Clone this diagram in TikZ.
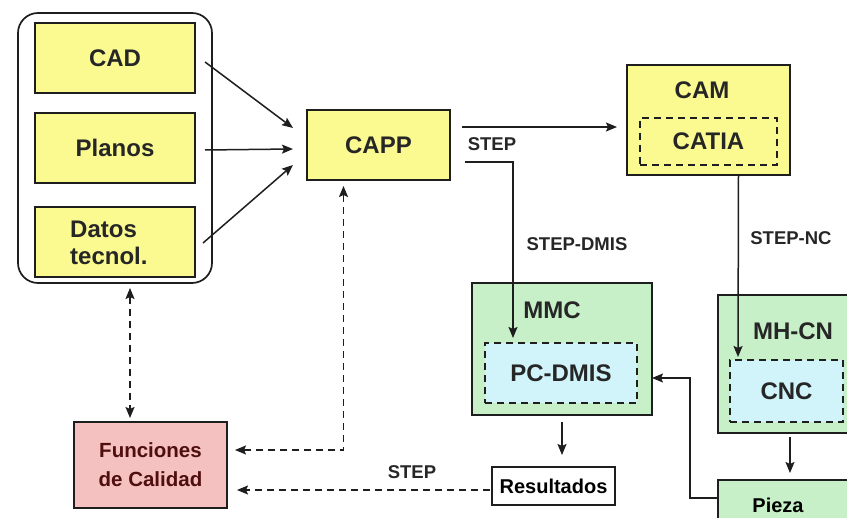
\documentclass[tikz,border=0pt]{standalone}
\usepackage{fontspec}
\setmainfont{Liberation Sans}
\usetikzlibrary{arrows.meta,calc}
\definecolor{yel}{RGB}{250,250,145}
\definecolor{grn}{RGB}{200,240,200}
\definecolor{cyn}{RGB}{208,244,250}
\definecolor{pnk}{RGB}{244,192,192}
\definecolor{edgec}{RGB}{30,30,30}
\definecolor{maroon}{RGB}{80,15,15}
\tikzset{
  box/.style={draw=edgec, line width=1.7pt, inner sep=0pt, outer sep=0pt, anchor=north west},
  dbox/.style={box, dash pattern=on 7pt off 5pt, line width=1.4pt},
  big/.style={font=\bfseries\fontsize{24}{28}\selectfont, text=black!85},
  lbl/.style={font=\bfseries\fontsize{18.5}{22}\selectfont, text=black!85},
  arr/.style={draw=edgec, line width=1.5pt, -{Stealth[length=11pt,width=9pt,inset=2pt]}},
  darr/.style={arr, dash pattern=on 7pt off 5pt},
  ddarr/.style={darr, {Stealth[length=11pt,width=9pt,inset=2pt]}-{Stealth[length=11pt,width=9pt,inset=2pt]}},
}
\begin{document}
\begin{tikzpicture}[x=1pt,y=-1pt]
\useasboundingbox (0,0) rectangle (847,518);
\fill[white] (0,0) rectangle (847,518);
\begin{scope}
\clip (0,0) rectangle (847,518);
% left group
\node[box, fill=white, rounded corners=20pt, minimum width=194pt, minimum height=270pt] (outer) at (18,13) {};
\node[box, fill=yel, minimum width=160pt, minimum height=70pt, big] (cad) at (35,23) {CAD};
\node[box, fill=yel, minimum width=160pt, minimum height=70pt, big] (planos) at (35,113) {Planos};
\node[box, fill=yel, minimum width=160pt, minimum height=70pt] (datos) at (35,207) {};
\node[big, anchor=west, align=left, inner sep=0pt] (datost) at (70,243) {Datos\\[-1pt]tecnol.};
% CAPP
\node[box, fill=yel, minimum width=143pt, minimum height=70pt, big] (capp) at (307,110) {CAPP};
% CAM
\node[box, fill=yel, minimum width=163pt, minimum height=110pt] (cam) at (627,65) {};
\node[big] (camt) at (702,90) {CAM};
\node[dbox, minimum width=137pt, minimum height=47pt, big] (catia) at (640,118) {CATIA};
% MMC
\node[box, fill=grn, minimum width=180pt, minimum height=132pt] (mmc) at (472,283) {};
\node[big] (mmct) at (552,310) {MMC};
\node[dbox, fill=cyn, minimum width=152pt, minimum height=60pt, big] (pcdmis) at (485,343) {PC-DMIS};
% MH-CN
\node[box, fill=grn, minimum width=150pt, minimum height=138pt] (mhcn) at (718,295) {};
\node[big] (mhcnt) at (793,331) {MH-CN};
\node[dbox, fill=cyn, minimum width=113pt, minimum height=62pt, big] (cnc) at (730,360) {CNC};
% Resultados, Pieza
\node[box, fill=white, minimum width=123pt, minimum height=38pt, font=\bfseries\fontsize{20}{22}\selectfont] (res) at (492,467) {Resultados};
\node[box, fill=grn, minimum width=150pt, minimum height=50pt] (pieza) at (718,480) {};
\node[font=\bfseries\fontsize{20}{22}\selectfont] (piezat) at (778,505) {Pieza};
% Funciones
\node[box, fill=pnk, minimum width=153pt, minimum height=86pt, align=center, text=maroon, font=\bfseries\fontsize{20.5}{29}\selectfont] (fun) at (74,422) {Funciones\\de Calidad};
% labels
\node[lbl] (l1) at (492,144) {STEP};
\node[lbl] (l2) at (577,244) {STEP-DMIS};
\node[lbl] (l3) at (791,238) {STEP-NC};
\node[lbl] (l4) at (412,472) {STEP};
% solid connectors
\draw[arr] ($(cad.east)+(10,4)$) -- ($(capp.west)+(-14,-17)$);
\draw[arr] ($(planos.east)+(10,2)$) -- ($(capp.west)+(-14,4)$);
\draw[arr] ($(datos.east)+(8,1)$) -- ($(capp.west)+(-14,20)$);
\coordinate (s1) at ($(capp.east)+(12,-18)$);
\draw[arr] (s1) -- (s1 -| {$(cam.west)+(-10,0)$});
\draw[arr] ($(capp.east)+(15,17)$) -| ($(pcdmis.north west)+(28,-5)$);
\draw[arr] ($(cam.south)+(30,0)$) -- ($(cnc.north west)+(8,-3)$);
\coordinate (m1) at ($(mmc.south)+(0,7)$);
\draw[arr] (m1) -- (m1 |- {$(res.north)+(0,-12)$});
\draw[arr] ($(mhcn.south)+(-3,4)$) -- ($(mhcn.south)+(-3,40)$);
\draw[arr] ($(pieza.west)+(0,-7)$) -- ++(-28,0) |- ($(pcdmis.east)+(15,5)$);
% dashed connectors
\coordinate (o1) at ($(outer.south)+(15,5)$);
\draw[ddarr] (o1) -- (o1 |- {$(fun.north)+(0,-4)$});
\draw[ddarr] ($(capp.south)+(-35,6)$) |- ($(fun.east)+(8,-15)$);
\draw[darr] ($(res.west)+(-2,4)$) -- ($(fun.east)+(10,25)$);
\end{scope}
\end{tikzpicture}
\end{document}
